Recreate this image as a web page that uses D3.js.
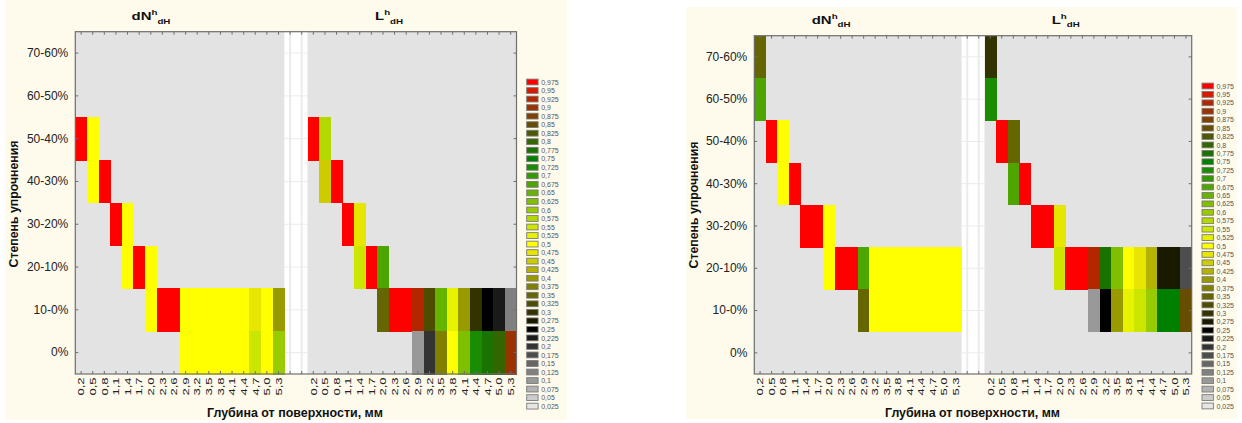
<!DOCTYPE html>
<html><head><meta charset="utf-8">
<script src="https://cdn.jsdelivr.net/npm/d3@7"></script>
<style>body{margin:0;background:#fff;} svg{display:block;font-family:"Liberation Sans",Arial,sans-serif;}</style>
</head><body><svg id="c" width="1242" height="423"></svg>
<script>
// ---------- DATA ----------
const depths = ["0,2","0,5","0,8","1,1","1,4","1,7","2,0","2,3","2,6","2,9","3,2","3,5","3,8","4,1","4,4","4,7","5,0","5,3"];
const levels = ["70-60%","60-50%","50-40%","40-30%","30-20%","20-10%","10-0%","0%"];
const legendValues = [0.975,0.95,0.925,0.9,0.875,0.85,0.825,0.8,0.775,0.75,0.725,0.7,0.675,0.65,0.625,0.6,0.575,0.55,0.525,0.5,0.475,0.45,0.425,0.4,0.375,0.35,0.325,0.3,0.275,0.25,0.225,0.2,0.175,0.15,0.125,0.1,0.075,0.05,0.025];
const legendColors = ["#ff0000","#d91a00","#b32600","#993300","#804000","#664d00","#4d5900","#336600","#1a7300","#008000","#1a8c00","#339900","#4da600","#66b300","#80bf00","#99cc00","#b3d900","#cce600","#e6f200","#ffff00","#e6e600","#cccc00","#b3b300","#999900","#808000","#666600","#4d4d00","#333300","#1a1a00","#000000","#1a1a1a","#333333","#4d4d4d","#666666","#808080","#999999","#b3b3b3","#cccccc","#e6e6e6"];
const _ = null;
// rows follow `levels`, columns follow `depths`
const chartA_dN = [
  [_,_,_,_,_,_,_,_,_,_,_,_,_,_,_,_,_,_],
  [_,_,_,_,_,_,_,_,_,_,_,_,_,_,_,_,_,_],
  [.975,.5,_,_,_,_,_,_,_,_,_,_,_,_,_,_,_,_],
  [_,.5,.975,_,_,_,_,_,_,_,_,_,_,_,_,_,_,_],
  [_,_,_,.975,.5,_,_,_,_,_,_,_,_,_,_,_,_,_],
  [_,_,_,_,.5,.975,.5,_,_,_,_,_,_,_,_,_,_,_],
  [_,_,_,_,_,_,.5,.975,.975,.5,.5,.5,.5,.5,.5,.475,.5,.4],
  [_,_,_,_,_,_,_,_,_,.5,.5,.5,.5,.5,.5,.55,.5,.6]
];
const chartA_L = [
  [_,_,_,_,_,_,_,_,_,_,_,_,_,_,_,_,_,_],
  [_,_,_,_,_,_,_,_,_,_,_,_,_,_,_,_,_,_],
  [.975,.575,_,_,_,_,_,_,_,_,_,_,_,_,_,_,_,_],
  [_,.45,.975,_,_,_,_,_,_,_,_,_,_,_,_,_,_,_],
  [_,_,_,.975,.475,_,_,_,_,_,_,_,_,_,_,_,_,_],
  [_,_,_,_,.55,.975,.675,_,_,_,_,_,_,_,_,_,_,_],
  [_,_,_,_,_,_,.35,.975,.975,.925,.325,.65,.525,.4,.3,.25,.225,.125],
  [_,_,_,_,_,_,_,_,_,.1,.2,.375,.5,.625,.725,.775,.8,.9]
];
const chartB_dN = [
  [.35,_,_,_,_,_,_,_,_,_,_,_,_,_,_,_,_,_],
  [.675,_,_,_,_,_,_,_,_,_,_,_,_,_,_,_,_,_],
  [_,.975,.5,_,_,_,_,_,_,_,_,_,_,_,_,_,_,_],
  [_,_,.5,.975,_,_,_,_,_,_,_,_,_,_,_,_,_,_],
  [_,_,_,_,.975,.975,.5,_,_,_,_,_,_,_,_,_,_,_],
  [_,_,_,_,_,_,.5,.975,.975,.675,.5,.5,.5,.5,.5,.5,.5,.5],
  [_,_,_,_,_,_,_,_,_,.35,.5,.5,.5,.5,.5,.5,.5,.5],
  [_,_,_,_,_,_,_,_,_,_,_,_,_,_,_,_,_,_]
];
const chartB_L = [
  [.3,_,_,_,_,_,_,_,_,_,_,_,_,_,_,_,_,_],
  [.725,_,_,_,_,_,_,_,_,_,_,_,_,_,_,_,_,_],
  [_,.975,.35,_,_,_,_,_,_,_,_,_,_,_,_,_,_,_],
  [_,_,.675,.975,_,_,_,_,_,_,_,_,_,_,_,_,_,_],
  [_,_,_,_,.975,.975,.475,_,_,_,_,_,_,_,_,_,_,_],
  [_,_,_,_,_,_,.55,.975,.975,.925,.775,.625,.5,.475,.425,.275,.275,.175],
  [_,_,_,_,_,_,_,_,_,.1,.25,.4,.525,.55,.6,.75,.75,.85],
  [_,_,_,_,_,_,_,_,_,_,_,_,_,_,_,_,_,_]
];
const panelTitleMain = ["dN","L"];
const panelTitleSup = "h";
const panelTitleSub = "dH";
const xTitle = "Глубина от поверхности, мм";
const yTitle = "Степень упрочнения";

// ---------- LAYOUT ----------
const charts = [
  {bg:[5,0,562,420], left:75.3, right:516.5, top:31.7, bottom:374,
   titles:[[131.5,20],[375,20]], xTitle:[207,417,176], yTitle:[17.5,204,127],
   lx:526.7, ly:82, lstep:8.53, panels:[chartA_dN, chartA_L]},
  {bg:[686,7,551,412], left:754.3, right:1191.7, top:35.7, bottom:374,
   titles:[[811.7,23.5],[1051.7,23.5]], xTitle:[885,417,175], yTitle:[697.5,205,127],
   lx:1202, ly:86, lstep:8.42, panels:[chartB_dN, chartB_L]}
];

const svg = d3.select("#c");
const color = d3.scaleOrdinal().domain(legendValues).range(legendColors);
const fmt = v => String(v).replace(".", ",");
const nCols = depths.length;
const gapCols = 2;

function drawChart(cfg){
  const g = svg.append("g");
  g.append("rect").attr("x",cfg.bg[0]).attr("y",cfg.bg[1]).attr("width",cfg.bg[2]).attr("height",cfg.bg[3]).attr("fill","#fefbed");
  const cols = d3.range(nCols*2+gapCols);
  const x = d3.scaleBand().domain(cols).range([cfg.left,cfg.right]);
  const y = d3.scaleBand().domain(levels).range([cfg.top,cfg.bottom]);
  const bw = x.bandwidth(), bh = y.bandwidth();
  const H = cfg.bottom-cfg.top;

  // gap (white with faint grid)
  g.append("rect").attr("x",x(nCols)).attr("y",cfg.top).attr("width",bw*gapCols).attr("height",H).attr("fill","#ffffff");
  const gapIdx = d3.range(nCols, nCols+gapCols);
  g.selectAll(null).data(gapIdx).join("line")
    .attr("x1",d=>x(d)+bw/2).attr("x2",d=>x(d)+bw/2).attr("y1",cfg.top).attr("y2",cfg.bottom)
    .attr("stroke","#ebebeb").attr("stroke-width",2);
  g.selectAll(null).data(levels).join("line")
    .attr("x1",x(nCols)).attr("x2",x(nCols)+bw*gapCols).attr("y1",d=>y(d)+bh/2).attr("y2",d=>y(d)+bh/2)
    .attr("stroke","#ebebeb").attr("stroke-width",1);

  cfg.panels.forEach((data,pi)=>{
    const off = pi*(nCols+gapCols);
    g.append("rect").attr("x",x(off)).attr("y",cfg.top).attr("width",bw*nCols).attr("height",H).attr("fill","#e3e3e3");
    const cells = [];
    data.forEach((row,ri)=>row.forEach((v,ci)=>{ if(v!==null) cells.push({r:levels[ri], c:off+ci, v}); }));
    g.selectAll(null).data(cells).join("rect")
      .attr("x",d=>x(d.c)).attr("y",d=>y(d.r)).attr("width",bw+0.6).attr("height",bh+0.6)
      .attr("shape-rendering","crispEdges")
      .attr("fill",d=>color(d.v));
    // titles
    const [tx,ty] = cfg.titles[pi];
    const tg = g.append("g").attr("transform",`translate(${tx},${ty}) scale(1.3,1)`);
    const t = tg.append("text").attr("font-weight","bold").attr("font-size",11.5).attr("fill","#111");
    t.append("tspan").text(panelTitleMain[pi]);
    t.append("tspan").attr("font-size",7.5).attr("dy",-5).text(panelTitleSup);
    t.append("tspan").attr("font-size",7.5).attr("dy",8.5).text(panelTitleSub);
  });

  const frameColor = "#6e6e6e";
  const labelOf = i => i < nCols ? depths[i] : (i < nCols+gapCols ? "" : depths[i-nCols-gapCols]);
  // bottom axis
  const ax = g.append("g").attr("transform",`translate(0,${cfg.bottom})`)
    .call(d3.axisBottom(x).tickSize(-3).tickSizeOuter(0).tickFormat(labelOf));
  ax.select(".domain").remove();
  ax.selectAll("line").attr("stroke",frameColor);
  ax.selectAll("text").attr("x",0).attr("y",0).attr("dy","0.36em")
    .attr("text-anchor","end").attr("font-size",9).attr("fill","#222").attr("font-family",null)
    .attr("transform","translate(0,3.5) rotate(-90) scale(1.45,1)");
  // top axis
  const at = g.append("g").attr("transform",`translate(0,${cfg.top})`)
    .call(d3.axisTop(x).tickSize(-3).tickSizeOuter(0).tickFormat(""));
  at.select(".domain").remove(); at.selectAll("line").attr("stroke",frameColor);
  // left axis
  const al = g.append("g").attr("transform",`translate(${cfg.left},0)`)
    .call(d3.axisLeft(y).tickSize(-3).tickSizeOuter(0).tickPadding(7));
  al.select(".domain").remove(); al.selectAll("line").attr("stroke",frameColor);
  al.selectAll("text").attr("font-size",12).attr("fill","#222").attr("font-family",null);
  // right axis
  const ar = g.append("g").attr("transform",`translate(${cfg.right},0)`)
    .call(d3.axisRight(y).tickSize(-3).tickSizeOuter(0).tickFormat(""));
  ar.select(".domain").remove(); ar.selectAll("line").attr("stroke",frameColor);
  // frame
  g.append("rect").attr("x",cfg.left).attr("y",cfg.top).attr("width",cfg.right-cfg.left).attr("height",H)
    .attr("fill","none").attr("stroke",frameColor).attr("stroke-width",1.2);

  // axis titles
  g.append("text").attr("x",cfg.xTitle[0]).attr("y",cfg.xTitle[1]).attr("font-weight","bold").attr("font-size",12.5)
    .attr("fill","#111").attr("textLength",cfg.xTitle[2]).attr("lengthAdjust","spacingAndGlyphs").text(xTitle);
  g.append("text").attr("transform",`translate(${cfg.yTitle[0]},${cfg.yTitle[1]}) rotate(-90)`)
    .attr("text-anchor","middle").attr("font-weight","bold").attr("font-size",12.5).attr("fill","#111")
    .attr("textLength",cfg.yTitle[2]).attr("lengthAdjust","spacingAndGlyphs").text(yTitle);

  // legend
  const lg = g.append("g");
  lg.selectAll(null).data(legendValues).join("rect")
    .attr("x",cfg.lx).attr("y",(d,i)=>cfg.ly+i*cfg.lstep-2.9).attr("width",11.4).attr("height",5.8)
    .attr("fill",d=>color(d)).attr("stroke","#7a7a7a").attr("stroke-width",0.9);
  lg.selectAll(null).data(legendValues).join("text")
    .attr("x",cfg.lx+14.5).attr("y",(d,i)=>cfg.ly+i*cfg.lstep+2.6)
    .attr("font-size",7).attr("fill","#555").text(d=>fmt(d));
}
charts.forEach(drawChart);
</script></body></html>
